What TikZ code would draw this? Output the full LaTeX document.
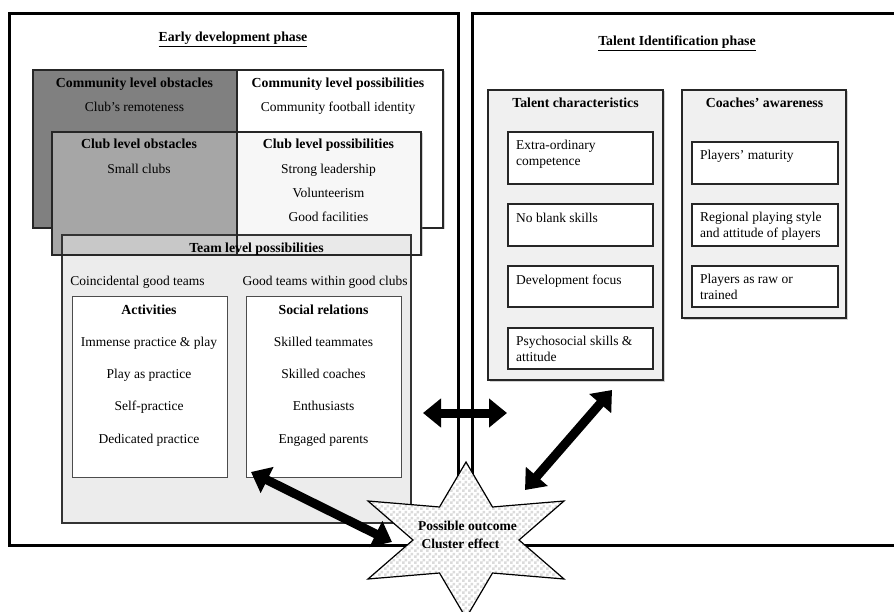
\documentclass[tikz,border=0pt]{standalone}
\usepackage{fontspec}
\setmainfont{Liberation Serif}
\usetikzlibrary{arrows.meta,patterns,shadows}
\pgfdeclarepatternformonly{finecheck}{\pgfpointorigin}{\pgfpoint{6pt}{6pt}}{\pgfpoint{6pt}{6pt}}{%
  \pgfpathrectangle{\pgfpointorigin}{\pgfpoint{3pt}{3pt}}%
  \pgfpathrectangle{\pgfpoint{3pt}{3pt}}{\pgfpoint{3pt}{3pt}}%
  \pgfusepath{fill}}
\begin{document}
\begin{tikzpicture}[x=1pt,y=-1pt,
  every node/.style={font=\fontsize{13.5}{16}\selectfont, inner sep=0pt},
  hd/.style={font=\fontsize{13.8}{16}\selectfont\bfseries, anchor=base},
  it/.style={anchor=base},
  lt/.style={anchor=north west, align=left},
  phasebox/.style={line width=3pt, draw=black},
  inbox/.style={draw=black!70, line width=1pt, fill=white},
  softshadow/.style={drop shadow={shadow xshift=1.5pt, shadow yshift=-1.5pt, opacity=0.35}},
  panel/.style={draw=black!85, line width=1.3pt, fill=black!6, softshadow},
  tbox/.style={draw=black!85, line width=1.1pt, fill=white},
  bigarrow/.style={line width=9pt, {Triangle[width=28pt,length=18pt]}-{Triangle[width=28pt,length=18pt]}},
]
\useasboundingbox (0,0) rectangle (894,612);
\fill[white] (0,0) rectangle (894,612);

% phase frames
\draw[phasebox] (9,14) rectangle (458,545);
\draw[phasebox] (472,14) rectangle (905,545);
\node[hd] (edp) at (233,42) {\underline{Early development phase}};
\node[hd] (tip) at (677,46) {\underline{Talent Identification phase}};

% community level
\path[fill=white, softshadow] (33,70) rectangle (443,228);
\fill[black!50] (33,70) rectangle (237,228);
\draw[line width=1.2pt, draw=black!85] (33,70) rectangle (443,228);
\draw[line width=1.2pt, draw=black!85] (237,70) -- (237,132);
\node[hd] (cobs) at (134.5,87.5) {Community level obstacles};
\node[it] (cobs1) at (134.5,111.5) {Club’s remoteness};
\node[hd] (cpos) at (338,87.5) {Community level possibilities};
\node[it] (cpos1) at (338,111.5) {Community football identity};

% club level
\path[fill=white, softshadow] (52,132) rectangle (421,255);
\fill[black!35] (52,132) rectangle (237,255);
\fill[black!3] (237,132) rectangle (421,255);

% team level
\draw[line width=1.2pt, draw=black!80, fill=black!12, fill opacity=0.6] (62,235) rectangle (411,523);
\draw[line width=1.2pt, draw=black!85] (52,132) rectangle (421,255);
\draw[line width=1.2pt, draw=black!85] (237,132) -- (237,255);
\node[hd] (clobs) at (139,148.5) {Club level obstacles};
\node[it] (clobs1) at (139,173.5) {Small clubs};
\node[hd] (clpos) at (328.5,148.5) {Club level possibilities};
\node[it] (clpos1) at (328.5,173.5) {Strong leadership};
\node[it] (clpos2) at (328.5,197.5) {Volunteerism};
\node[it] (clpos3) at (328.5,221.5) {Good facilities};

\node[hd] (team) at (256.5,252.5) {Team level possibilities};
\node[it] (coin) at (137.5,285.5) {Coincidental good teams};
\node[it] (good) at (325,285.5) {Good teams within good clubs};

\draw[inbox] (72,297) rectangle (227,477);
\draw[inbox] (246,297) rectangle (401,477);
\node[hd] (act) at (149,314.5) {Activities};
\node[it] (act1) at (149,346.5) {Immense practice \& play};
\node[it] (act2) at (149,378.5) {Play as practice};
\node[it] (act3) at (149,410.5) {Self-practice};
\node[it] (act4) at (149,443.5) {Dedicated practice};
\node[hd] (soc) at (323.5,314.5) {Social relations};
\node[it] (soc1) at (323.5,346.5) {Skilled teammates};
\node[it] (soc2) at (323.5,378.5) {Skilled coaches};
\node[it] (soc3) at (323.5,410.5) {Enthusiasts};
\node[it] (soc4) at (323.5,443.5) {Engaged parents};

% talent characteristics
\draw[panel] (488,90) rectangle (663,380);
\node[hd] (tc) at (575.5,108) {Talent characteristics};
\draw[tbox] (508,132) rectangle (653,184);
\draw[tbox] (508,204) rectangle (653,246);
\draw[tbox] (508,266) rectangle (653,307);
\draw[tbox] (508,328) rectangle (653,369);
\node[lt] (tc1) at (516,138.5) {\strut Extra-ordinary\\\strut competence};
\node[lt] (tc2) at (516,211.5) {\strut No blank skills};
\node[lt] (tc3) at (516,273) {\strut Development focus};
\node[lt] (tc4) at (516,334) {\strut Psychosocial skills \&\\\strut attitude};

% coaches awareness
\draw[panel] (682,90) rectangle (846,318);
\node[hd] (ca) at (764.5,108) {Coaches’ awareness};
\draw[tbox] (692,142) rectangle (838,184);
\draw[tbox] (692,204) rectangle (838,246);
\draw[tbox] (692,266) rectangle (838,307);
\node[lt] (ca1) at (700,148) {\strut Players’ maturity};
\node[lt] (ca2) at (700,210) {\strut Regional playing style\\\strut and attitude of players};
\node[lt] (ca3) at (700,272) {\strut Players as raw or\\\strut trained};

% star
\path[preaction={fill=white}, pattern=finecheck, pattern color=black!14, draw=black, line width=1.2pt, line join=miter]
  (466,540) ++(0,-78) -- ++(26.5,45) -- ++(71.5,-6) -- ++(-45,39) -- ++(45,39)
  -- ++(-71.5,-6) -- ++(-26.5,45) -- ++(-26.5,-45) -- ++(-71.5,6) -- ++(45,-39)
  -- ++(-45,-39) -- ++(71.5,6) -- cycle;
\node[font=\fontsize{13.5}{16}\selectfont\bfseries, anchor=base] (po) at (467.5,530.5) {Possible outcome};
\node[font=\fontsize{13.5}{16}\selectfont\bfseries, anchor=base] (ce) at (460.5,548) {Cluster effect};

% arrows
\coordinate (h1) at (423,413);
\coordinate (h2) at (507,413);
\coordinate (r1) at (612,390);
\coordinate (r2) at (525,490);
\coordinate (l1) at (251,472);
\coordinate (l2) at (392,542);
\draw[bigarrow] (h1) -- (h2);
\draw[bigarrow] (r1) -- (r2);
\draw[bigarrow] (l1) -- (l2);
\end{tikzpicture}
\end{document}
